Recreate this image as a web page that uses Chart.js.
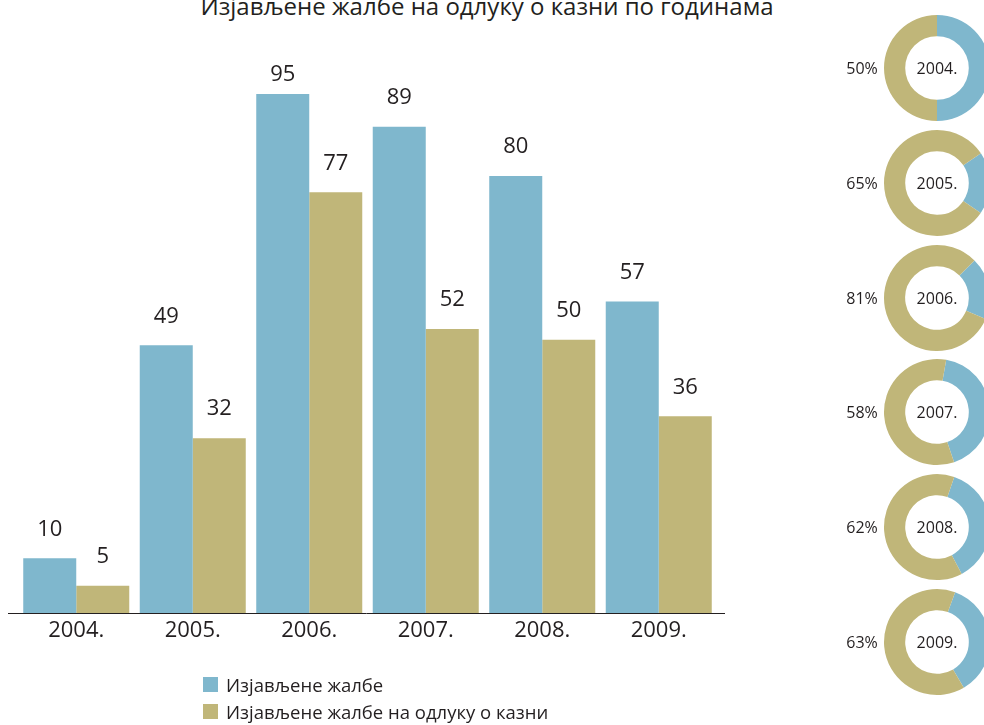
<!DOCTYPE html>
<html>
<head>
<meta charset="utf-8">
<script src="https://cdn.jsdelivr.net/npm/chart.js@4.4.1/dist/chart.umd.min.js"></script>
<style>
  html, body { margin: 0; padding: 0; width: 984px; height: 725px; overflow: hidden; background: #fff; }
  body { position: relative; font-family: "Open Sans", "Noto Sans", sans-serif; color: #231f20; }
  #title { position: absolute; left: 0; width: 974px; top: -11px; text-align: center; font-size: 24px; white-space: nowrap; }
  #barWrap { position: absolute; left: 0; top: 0; width: 750px; height: 725px; }
  #legend { position: absolute; left: 203px; top: 671px; font-size: 18.5px; }
  .li { display: flex; align-items: center; height: 27px; }
  .sw { width: 15px; height: 15px; margin-right: 8px; }
  .dn { position: absolute; left: 830px; width: 160px; height: 114px; }
</style>
</head>
<body>
<div id="title">Изјављене жалбе на одлуку о казни по годинама</div>
<div id="barWrap"><canvas id="bars" width="750" height="725"></canvas></div>
<div id="legend"></div>
<div id="donuts"></div>
<script>
const categories = ['2004.', '2005.', '2006.', '2007.', '2008.', '2009.'];
const seriesNames = ['Изјављене жалбе', 'Изјављене жалбе на одлуку о казни'];
const filedAppeals = [10, 49, 95, 89, 80, 57];
const appealsOnFines = [5, 32, 77, 52, 50, 36];
const donutPercentLabels = ['50%', '65%', '81%', '58%', '62%', '63%'];
const donutOliveShares = [50, 81, 81, 58, 63, 64];
const donutStartAngles = [0, 56, 45, 10, 19, 20];

const BLUE = '#7fb7cd';
const OLIVE = '#c0b679';
const TEXT = '#231f20';
const FONT = '"Open Sans", "Noto Sans", sans-serif';

const valueLabels = {
  id: 'valueLabels',
  afterDatasetsDraw(chart) {
    const ctx = chart.ctx;
    ctx.save();
    ctx.font = '22px ' + FONT;
    ctx.fillStyle = TEXT;
    ctx.textAlign = 'center';
    ctx.textBaseline = 'middle';
    chart.data.datasets.forEach((ds, di) => {
      chart.getDatasetMeta(di).data.forEach((bar, i) => {
        const y = Math.max(bar.y - 29, 75);
        ctx.fillText(String(ds.data[i]), bar.x, y);
      });
    });
    ctx.restore();
  }
};

const baseLine = {
  id: 'baseLine',
  afterDraw(chart) {
    const a = chart.chartArea, ctx = chart.ctx;
    ctx.save();
    ctx.strokeStyle = '#231f20';
    ctx.lineWidth = 1;
    ctx.beginPath();
    ctx.moveTo(a.left - 10, Math.round(a.bottom) + 0.5);
    ctx.lineTo(a.right + 8, Math.round(a.bottom) + 0.5);
    ctx.stroke();
    ctx.restore();
  }
};

new Chart(document.getElementById('bars'), {
  type: 'bar',
  data: {
    labels: categories,
    datasets: [
      { label: seriesNames[0], data: filedAppeals, backgroundColor: BLUE, borderWidth: 0 },
      { label: seriesNames[1], data: appealsOnFines, backgroundColor: OLIVE, borderWidth: 0 }
    ]
  },
  options: {
    responsive: false,
    devicePixelRatio: 1,
    animation: false,
    datasets: { bar: { categoryPercentage: 0.91, barPercentage: 1.0, inflateAmount: 0 } },
    layout: { padding: { left: 18, right: 33, top: 66.7, bottom: 72 } },
    plugins: { legend: { display: false }, title: { display: false }, tooltip: { enabled: false } },
    scales: {
      x: {
        grid: { display: false, drawTicks: false },
        border: { display: false },
        ticks: { color: TEXT, font: { family: FONT, size: 22 }, padding: 5, maxRotation: 0 },
        afterFit: s => { s.height = 40; }
      },
      y: { display: false, min: 0, max: 100 }
    }
  },
  plugins: [valueLabels, baseLine]
});

const legend = document.getElementById('legend');
[BLUE, OLIVE].forEach((c, i) => {
  const row = document.createElement('div');
  row.className = 'li';
  row.innerHTML = '<span class="sw" style="background:' + c + '"></span><span>' + seriesNames[i] + '</span>';
  legend.appendChild(row);
});

const donutText = {
  id: 'donutText',
  afterDraw(chart) {
    const a = chart.chartArea, ctx = chart.ctx;
    const cx = (a.left + a.right) / 2, cy = (a.top + a.bottom) / 2;
    const i = chart.options.plugins.donutText.index;
    ctx.save();
    ctx.font = '16px ' + FONT;
    ctx.fillStyle = TEXT;
    ctx.textAlign = 'center';
    ctx.textBaseline = 'middle';
    ctx.fillText(categories[i], cx, cy + 1);
    ctx.fillText(donutPercentLabels[i], 32, cy + 1);
    ctx.restore();
  }
};

const donuts = document.getElementById('donuts');
categories.forEach((cat, i) => {
  const cy = 68 + 114.8 * i;
  const div = document.createElement('div');
  div.className = 'dn';
  div.style.top = (cy - 57) + 'px';
  const cv = document.createElement('canvas');
  cv.width = 160; cv.height = 114;
  div.appendChild(cv);
  donuts.appendChild(div);
  new Chart(cv, {
    type: 'doughnut',
    data: {
      labels: ['blue', 'olive'],
      datasets: [{
        data: [100 - donutOliveShares[i], donutOliveShares[i]],
        backgroundColor: [BLUE, OLIVE],
        borderWidth: 0
      }]
    },
    options: {
      responsive: false,
      devicePixelRatio: 1,
      animation: false,
      rotation: donutStartAngles[i],
      cutout: '60%',
      layout: { padding: { left: 54, right: 0, top: 4, bottom: 4 } },
      plugins: { legend: { display: false }, tooltip: { enabled: false }, donutText: { index: i } }
    },
    plugins: [donutText]
  });
});
</script>
</body>
</html>
